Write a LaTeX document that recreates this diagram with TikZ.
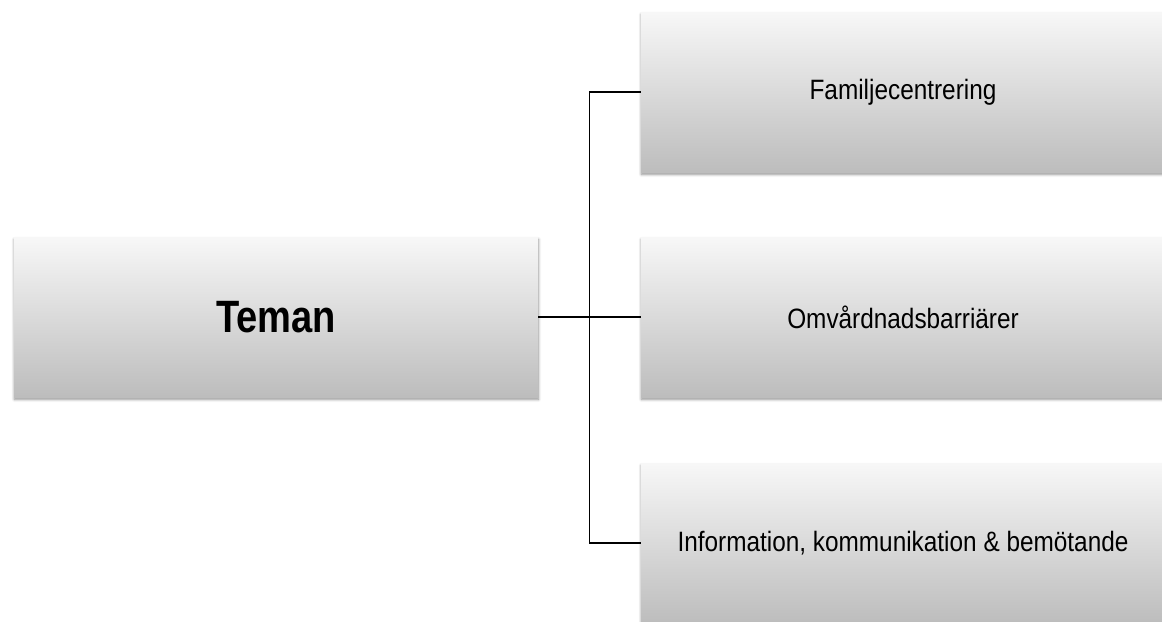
\documentclass[tikz,border=0pt]{standalone}
\usepackage{fontspec}
\setmainfont{Liberation Sans}
\newfontfamily\themefont{Liberation Sans}[FakeStretch=0.87]
\newfontfamily\rootfont{Liberation Sans}[FakeStretch=0.84]
\usetikzlibrary{shadows.blur,calc}
\begin{document}
\begin{tikzpicture}[x=0.75pt,y=-0.75pt]
				\tikzstyle{theme box}=[rectangle,minimum width=524*0.75pt,minimum height=160*0.75pt,inner sep=0pt,
					top color=white!97!black,bottom color=white!74!black,
					blur shadow={shadow xshift=0.3pt,shadow yshift=-1.8pt,shadow blur steps=6,shadow blur radius=2pt,shadow opacity=45}]
				\tikzstyle{branch}=[line width=1.4pt,black]
				\useasboundingbox (0,0) rectangle (1162,621);
				\node(tema)[theme box] at (276,317){\rootfont\fontsize{34}{38}\selectfont\bfseries Teman};
				\node(fam)[theme box] at (903,92){\themefont\fontsize{21}{25}\selectfont Familjecentrering};
				\node(omv)[theme box] at (903,317){\themefont\fontsize{21}{25}\selectfont Omvårdnadsbarriärer};
				\node(info)[theme box] at (903,543){\themefont\fontsize{21}{25}\selectfont Information, kommunikation \& bemötande};
				\coordinate(spine) at ($(tema.east)!0.5!(omv.west)$);
				\draw[branch](tema.east)to(omv.west);
				\draw[branch](fam.west)-|(spine)|-(info.west);
			\end{tikzpicture}
\end{document}
